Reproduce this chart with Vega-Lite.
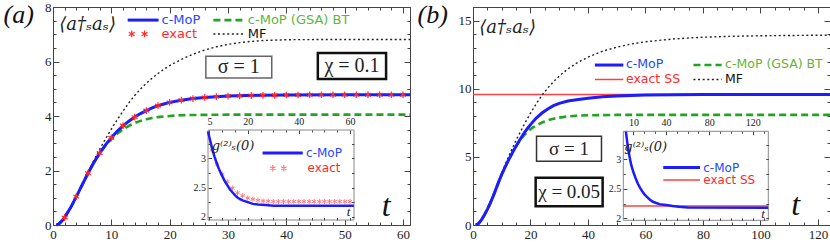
{
  "$schema": "https://vega.github.io/schema/vega-lite/v6.json",
  "autosize": {"type": "pad"},
  "padding": {"left": 2, "top": 0, "right": 0, "bottom": 0},
  "spacing": 63,
  "bounds": "flush",
  "config": {
    "view": {"stroke": "#444", "strokeWidth": 1},
    "axis": {"domain": false, "grid": false, "labelFont": "Liberation Serif", "labelFontSize": 13, "labelColor": "#222", "tickColor": "#444", "labelOverlap": false, "labelFlush": false, "format": "~g"}
  },
  "datasets": {
    "a_cmop": [{"t":0.6,"v":0},{"t":1,"v":0.04},{"t":1.5,"v":0.14},{"t":2,"v":0.28},{"t":3,"v":0.63},{"t":4,"v":1.04},{"t":5,"v":1.47},{"t":6,"v":1.9},{"t":7,"v":2.29},{"t":8,"v":2.64},{"t":9,"v":2.94},{"t":10,"v":3.2},{"t":11,"v":3.44},{"t":12,"v":3.64},{"t":13,"v":3.81},{"t":14,"v":3.96},{"t":15,"v":4.09},{"t":16,"v":4.2},{"t":17,"v":4.3},{"t":18,"v":4.38},{"t":19,"v":4.44},{"t":20,"v":4.5},{"t":22,"v":4.58},{"t":24,"v":4.64},{"t":26,"v":4.68},{"t":28,"v":4.71},{"t":30,"v":4.73},{"t":33,"v":4.75},{"t":36,"v":4.76},{"t":40,"v":4.77},{"t":50,"v":4.78},{"t":61.2,"v":4.78}],
    "a_gsa": [{"t":0.6,"v":0},{"t":1,"v":0.04},{"t":2,"v":0.28},{"t":3,"v":0.63},{"t":4,"v":1.04},{"t":5,"v":1.47},{"t":6,"v":1.9},{"t":7,"v":2.29},{"t":8,"v":2.63},{"t":9,"v":2.92},{"t":10,"v":3.15},{"t":11,"v":3.35},{"t":12,"v":3.51},{"t":13,"v":3.64},{"t":14,"v":3.74},{"t":15,"v":3.82},{"t":16,"v":3.88},{"t":17,"v":3.93},{"t":18,"v":3.96},{"t":20,"v":4.0},{"t":22,"v":4.03},{"t":25,"v":4.04},{"t":30,"v":4.05},{"t":61.2,"v":4.05}],
    "a_mf": [{"t":0.6,"v":0},{"t":1,"v":0.04},{"t":2,"v":0.28},{"t":3,"v":0.63},{"t":4,"v":1.05},{"t":5,"v":1.49},{"t":6,"v":1.94},{"t":7,"v":2.37},{"t":8,"v":2.78},{"t":9,"v":3.16},{"t":10,"v":3.52},{"t":11,"v":3.86},{"t":12,"v":4.18},{"t":13,"v":4.48},{"t":14,"v":4.75},{"t":15,"v":4.99},{"t":16,"v":5.2},{"t":17,"v":5.39},{"t":18,"v":5.56},{"t":19,"v":5.71},{"t":20,"v":5.85},{"t":22,"v":6.08},{"t":24,"v":6.27},{"t":26,"v":6.42},{"t":28,"v":6.54},{"t":30,"v":6.63},{"t":33,"v":6.72},{"t":36,"v":6.77},{"t":40,"v":6.8},{"t":50,"v":6.81},{"t":61.2,"v":6.81}],
    "a_exact": [{"t":2,"v":0.27},{"t":4,"v":1.04},{"t":6,"v":1.9},{"t":8,"v":2.64},{"t":10,"v":3.2},{"t":12,"v":3.65},{"t":14,"v":3.96},{"t":16,"v":4.2},{"t":18,"v":4.38},{"t":20,"v":4.5},{"t":22,"v":4.58},{"t":24,"v":4.64},{"t":26,"v":4.68},{"t":28,"v":4.71},{"t":30,"v":4.73},{"t":32,"v":4.74},{"t":34,"v":4.75},{"t":36,"v":4.76},{"t":38,"v":4.76},{"t":40,"v":4.77},{"t":42,"v":4.77},{"t":44,"v":4.78},{"t":46,"v":4.78},{"t":48,"v":4.78},{"t":50,"v":4.78},{"t":52,"v":4.78},{"t":54,"v":4.78},{"t":56,"v":4.78},{"t":58,"v":4.78},{"t":60,"v":4.78}],
    "a_in_cmop": [{"t":4.46,"v":3.46},{"t":5,"v":3.36},{"t":6,"v":3.18},{"t":7,"v":3.03},{"t":8,"v":2.9},{"t":9,"v":2.79},{"t":10,"v":2.7},{"t":11,"v":2.61},{"t":12,"v":2.54},{"t":13,"v":2.47},{"t":14,"v":2.42},{"t":15,"v":2.37},{"t":16,"v":2.33},{"t":17,"v":2.3},{"t":18,"v":2.28},{"t":20,"v":2.25},{"t":22,"v":2.22},{"t":24,"v":2.21},{"t":27,"v":2.2},{"t":30,"v":2.19},{"t":61.5,"v":2.19}],
    "a_in_exact": [{"t":6,"v":3.14},{"t":8,"v":2.9},{"t":10,"v":2.73},{"t":12,"v":2.6},{"t":14,"v":2.49},{"t":16,"v":2.41},{"t":18,"v":2.36},{"t":20,"v":2.32},{"t":22,"v":2.3},{"t":24,"v":2.28},{"t":26,"v":2.27},{"t":28,"v":2.265},{"t":30,"v":2.26},{"t":32,"v":2.26},{"t":34,"v":2.26},{"t":36,"v":2.26},{"t":38,"v":2.26},{"t":40,"v":2.26},{"t":42,"v":2.26},{"t":44,"v":2.26},{"t":46,"v":2.26},{"t":48,"v":2.26},{"t":50,"v":2.26},{"t":52,"v":2.26},{"t":54,"v":2.26},{"t":56,"v":2.26},{"t":58,"v":2.26},{"t":60,"v":2.26}],
    "b_cmop": [{"t":1,"v":0},{"t":2,"v":0.12},{"t":3,"v":0.4},{"t":4,"v":0.75},{"t":5,"v":1.15},{"t":6,"v":1.6},{"t":7,"v":2.1},{"t":8,"v":2.65},{"t":9,"v":3.2},{"t":10,"v":3.72},{"t":11,"v":4.18},{"t":12,"v":4.62},{"t":13,"v":5.02},{"t":14,"v":5.42},{"t":15,"v":5.8},{"t":16,"v":6.15},{"t":17,"v":6.5},{"t":18,"v":6.82},{"t":19,"v":7.1},{"t":20,"v":7.37},{"t":22,"v":7.85},{"t":24,"v":8.22},{"t":26,"v":8.52},{"t":28,"v":8.76},{"t":30,"v":8.93},{"t":33,"v":9.1},{"t":36,"v":9.2},{"t":40,"v":9.31},{"t":45,"v":9.41},{"t":50,"v":9.47},{"t":55,"v":9.51},{"t":60,"v":9.54},{"t":70,"v":9.56},{"t":80,"v":9.57},{"t":124.2,"v":9.57}],
    "b_gsa": [{"t":1,"v":0},{"t":2,"v":0.12},{"t":3,"v":0.4},{"t":4,"v":0.75},{"t":5,"v":1.15},{"t":6,"v":1.6},{"t":7,"v":2.1},{"t":8,"v":2.65},{"t":9,"v":3.2},{"t":10,"v":3.72},{"t":11,"v":4.18},{"t":12,"v":4.62},{"t":13,"v":5.02},{"t":14,"v":5.42},{"t":15,"v":5.78},{"t":16,"v":6.1},{"t":17,"v":6.4},{"t":18,"v":6.64},{"t":19,"v":6.85},{"t":20,"v":7.03},{"t":21,"v":7.18},{"t":22,"v":7.3},{"t":24,"v":7.52},{"t":26,"v":7.68},{"t":28,"v":7.8},{"t":30,"v":7.88},{"t":33,"v":7.97},{"t":36,"v":8.02},{"t":40,"v":8.05},{"t":50,"v":8.08},{"t":124.2,"v":8.08}],
    "b_mf": [{"t":1,"v":0},{"t":2,"v":0.12},{"t":3,"v":0.4},{"t":4,"v":0.76},{"t":5,"v":1.17},{"t":6,"v":1.63},{"t":7,"v":2.14},{"t":8,"v":2.7},{"t":9,"v":3.27},{"t":10,"v":3.82},{"t":11,"v":4.34},{"t":12,"v":4.84},{"t":13,"v":5.32},{"t":14,"v":5.78},{"t":15,"v":6.22},{"t":16,"v":6.64},{"t":18,"v":7.45},{"t":20,"v":8.2},{"t":22,"v":8.9},{"t":24,"v":9.52},{"t":26,"v":10.05},{"t":28,"v":10.52},{"t":30,"v":10.93},{"t":33,"v":11.45},{"t":36,"v":11.88},{"t":40,"v":12.32},{"t":45,"v":12.75},{"t":50,"v":13.05},{"t":55,"v":13.28},{"t":60,"v":13.45},{"t":70,"v":13.66},{"t":80,"v":13.78},{"t":90,"v":13.85},{"t":100,"v":13.89},{"t":115,"v":13.92},{"t":124.2,"v":13.93}],
    "b_in_cmop": [{"t":3.05,"v":3.47},{"t":4,"v":3.33},{"t":5,"v":3.2},{"t":6,"v":3.08},{"t":8,"v":2.9},{"t":10,"v":2.78},{"t":12,"v":2.68},{"t":14,"v":2.59},{"t":16,"v":2.52},{"t":18,"v":2.46},{"t":20,"v":2.41},{"t":22,"v":2.37},{"t":25,"v":2.32},{"t":28,"v":2.28},{"t":31,"v":2.26},{"t":34,"v":2.24},{"t":38,"v":2.23},{"t":42,"v":2.22},{"t":46,"v":2.21},{"t":52,"v":2.195},{"t":60,"v":2.185},{"t":134.3,"v":2.18}]
  },
  "hconcat": [
    {
      "width": 357, "height": 218,
      "resolve": {"scale": {"x": "independent", "y": "independent"}},
      "layer": [
        {
          "encoding": {
            "x": {"field": "t", "type": "quantitative", "scale": {"domain": [0, 61.2], "nice": false, "zero": false}, "axis": null},
            "y": {"field": "v", "type": "quantitative", "scale": {"domain": [0, 8], "nice": false, "zero": false}, "axis": null}
          },
          "resolve": {"axis": {"x": "independent", "y": "independent"}},
          "layer": [
            {"data": {"name": "a_gsa"}, "mark": {"type": "line", "color": "#22a322", "strokeWidth": 2.6, "strokeDash": [7, 4]},
             "encoding": {
               "x": {"field": "t", "type": "quantitative", "scale": {"domain": [0, 61.2], "nice": false, "zero": false},
                     "axis": {"orient": "top", "title": null, "labels": false, "values": [0,2,4,6,8,10,12,14,16,18,20,22,24,26,28,30,32,34,36,38,40,42,44,46,48,50,52,54,56,58,60], "tickSize": {"condition": {"test": "datum.value % 10 === 0", "value": -6}, "value": -3}}},
               "y": {"field": "v", "type": "quantitative", "scale": {"domain": [0, 8], "nice": false, "zero": false},
                     "axis": {"orient": "right", "title": null, "labels": false, "values": [0,0.5,1,1.5,2,2.5,3,3.5,4,4.5,5,5.5,6,6.5,7,7.5,8], "tickSize": {"condition": {"test": "datum.value % 2 === 0", "value": -6}, "value": -3}}}
             }},
            {"data": {"name": "a_mf"}, "mark": {"type": "line", "color": "#222", "strokeWidth": 1.4, "strokeDash": [2, 2.6]}},
            {"data": {"name": "a_cmop"}, "mark": {"type": "line", "color": "#1c1cff", "strokeWidth": 3},
             "encoding": {
               "x": {"field": "t", "type": "quantitative", "scale": {"domain": [0, 61.2], "nice": false, "zero": false},
                     "axis": {"orient": "bottom", "title": null, "format": "d", "values": [0,2,4,6,8,10,12,14,16,18,20,22,24,26,28,30,32,34,36,38,40,42,44,46,48,50,52,54,56,58,60], "labelExpr": "datum.value % 10 === 0 ? datum.label : ''", "tickSize": {"condition": {"test": "datum.value % 10 === 0", "value": -6}, "value": -3}, "labelPadding": 9}},
               "y": {"field": "v", "type": "quantitative", "scale": {"domain": [0, 8], "nice": false, "zero": false},
                     "axis": {"orient": "left", "values": [0,0.5,1,1.5,2,2.5,3,3.5,4,4.5,5,5.5,6,6.5,7,7.5,8], "labelExpr": "datum.value % 2 === 0 ? datum.label : ''", "tickSize": {"condition": {"test": "datum.value % 2 === 0", "value": -6}, "value": -3}, "labelPadding": 8,
                              "title": "(a)", "titleAngle": 0, "titleX": -50, "titleY": 15, "titleAlign": "left", "titleBaseline": "alphabetic", "titleFont": "Liberation Serif", "titleFontSize": 26, "titleFontStyle": "italic", "titleFontWeight": "normal", "titleColor": "#111"}}
             }},
            {"data": {"name": "a_exact"}, "mark": {"type": "point", "shape": "M0,-1L0,1M-0.87,-0.5L0.87,0.5M-0.87,0.5L0.87,-0.5", "filled": false, "stroke": "#ff2a2a", "strokeWidth": 1.2, "size": 45, "opacity": 1}},
            {"data": {"values": [{"t": 12.8, "t2": 18.1, "v": 7.52}]}, "mark": {"type": "rule", "color": "#1c1cff", "strokeWidth": 3}, "encoding": {"x2": {"field": "t2"}}},
            {"data": {"values": [{"t": 27.5, "t2": 32.9, "v": 7.52}]}, "mark": {"type": "rule", "color": "#22a322", "strokeWidth": 2.6, "strokeDash": [7, 4]}, "encoding": {"x2": {"field": "t2"}}},
            {"data": {"values": [{"t": 27.5, "t2": 32.9, "v": 7.01}]}, "mark": {"type": "rule", "color": "#222", "strokeWidth": 1.4, "strokeDash": [2, 2.6]}, "encoding": {"x2": {"field": "t2"}}},
            {"data": {"values": [{"t": 13.5, "v": 7.01}, {"t": 15.7, "v": 7.01}]}, "mark": {"type": "point", "shape": "M0,-1L0,1M-0.87,-0.5L0.87,0.5M-0.87,0.5L0.87,-0.5", "filled": false, "stroke": "#ff2a2a", "strokeWidth": 1.2, "size": 45, "opacity": 1}},
            {"data": {"values": [{"t": 18.6, "v": 7.52, "label": "c-MoP", "s": "c"}, {"t": 33.4, "v": 7.52, "label": "c-MoP (GSA) BT", "s": "g"}, {"t": 18.6, "v": 7.01, "label": "exact", "s": "e"}, {"t": 33.4, "v": 7.01, "label": "MF", "s": "m"}]},
             "mark": {"type": "text", "align": "left", "baseline": "middle", "font": "DejaVu Sans", "fontSize": 13},
             "encoding": {"text": {"field": "label"}, "color": {"field": "s", "type": "nominal", "scale": {"domain": ["c", "e", "g", "m", "r"], "range": ["#2448ff", "#ff2a2a", "#5fb43c", "#111111", "#ff2a2a"]}, "legend": null}}},
            {"data": {"values": [{"t": 26.2, "t2": 37.5, "v": 5.39, "v2": 6.19}]}, "mark": {"type": "rect", "fill": "white", "stroke": "#666", "strokeWidth": 1.5}, "encoding": {"x2": {"field": "t2"}, "y2": {"field": "v2"}}},
            {"data": {"values": [{"t": 45.4, "t2": 57.1, "v": 5.36, "v2": 6.31}]}, "mark": {"type": "rect", "fill": "white", "stroke": "#111", "strokeWidth": 2.5}, "encoding": {"x2": {"field": "t2"}, "y2": {"field": "v2"}}},
            {"data": {"values": [{"t": 31.85, "v": 5.79, "label": "σ = 1"}, {"t": 51.25, "v": 5.83, "label": "χ = 0.1"}]},
             "mark": {"type": "text", "align": "center", "baseline": "middle", "font": "Liberation Serif", "fontSize": 20, "color": "#222"},
             "encoding": {"text": {"field": "label"}}},
            {"data": {"values": [{"t": 1.08, "v": 7.17, "label": "⟨a†ₛaₛ⟩"}]},
             "mark": {"type": "text", "align": "left", "baseline": "alphabetic", "font": "DejaVu Serif", "fontStyle": "italic", "fontSize": 18, "color": "#222"},
             "encoding": {"text": {"field": "label"}}},
            {"data": {"values": [{"t": 57.1, "v": 0.33, "label": "t"}]},
             "mark": {"type": "text", "align": "center", "baseline": "alphabetic", "font": "Liberation Serif", "fontStyle": "italic", "fontSize": 32, "color": "#111"},
             "encoding": {"text": {"field": "label"}}}
          ]
        },
        {
          "encoding": {
            "x": {"field": "t", "type": "quantitative", "scale": {"domain": [4.46, 61.56], "range": [155, 301], "nice": false, "zero": false}, "axis": null},
            "y": {"field": "v", "type": "quantitative", "scale": {"domain": [1.944, 3.485], "range": [213, 123], "nice": false, "zero": false}, "axis": null}
          },
          "resolve": {"axis": {"x": "independent", "y": "independent"}},
          "layer": [
            {"data": {"values": [{"t": 4.46, "t2": 61.56, "v": 1.944, "v2": 3.485}]}, "mark": {"type": "rect", "fill": "white", "stroke": "#888", "strokeWidth": 1},
             "encoding": {
               "x": {"field": "t", "type": "quantitative", "scale": {"domain": [4.46, 61.56], "range": [155, 301], "nice": false, "zero": false},
                     "axis": {"orient": "bottom", "offset": -5, "zindex": 1, "title": null, "labels": false, "values": [5,10,15,20,25,30,35,40,45,50,55,60], "tickSize": -2.5}},
               "y": {"field": "v", "type": "quantitative", "scale": {"domain": [1.944, 3.485], "range": [213, 123], "nice": false, "zero": false},
                     "axis": {"orient": "right", "offset": -56, "zindex": 1, "title": null, "labels": false, "values": [2,2.25,2.5,2.75,3,3.25], "tickSize": -2.5}},
               "x2": {"field": "t2"}, "y2": {"field": "v2"}
             }},
            {"data": {"name": "a_in_exact"}, "mark": {"type": "point", "shape": "M0,-1L0,1M-0.87,-0.5L0.87,0.5M-0.87,0.5L0.87,-0.5", "filled": false, "stroke": "#ff7a7a", "strokeWidth": 1, "size": 25, "opacity": 1}},
            {"data": {"name": "a_in_cmop"}, "mark": {"type": "line", "color": "#1c1cff", "strokeWidth": 2.5},
             "encoding": {
               "x": {"field": "t", "type": "quantitative", "scale": {"domain": [4.46, 61.56], "range": [155, 301], "nice": false, "zero": false},
                     "axis": {"orient": "top", "offset": -123, "zindex": 1, "title": null, "format": "d", "values": [5,10,15,20,25,30,35,40,45,50,55,60], "labelExpr": "indexof([5,20,40,60], datum.value) >= 0 ? datum.label : ''", "tickSize": {"condition": {"test": "indexof([5,20,40,60], datum.value) >= 0", "value": -3.5}, "value": -2}, "labelPadding": 7, "labelFontSize": 10}},
               "y": {"field": "v", "type": "quantitative", "scale": {"domain": [1.944, 3.485], "range": [213, 123], "nice": false, "zero": false},
                     "axis": {"orient": "left", "offset": -155, "zindex": 1, "title": null, "values": [2,2.25,2.5,2.75,3,3.25], "labelExpr": "(datum.value * 2) % 1 === 0 ? datum.label : ''", "tickSize": {"condition": {"test": "(datum.value * 2) % 1 === 0", "value": -3.5}, "value": -2}, "labelPadding": 6, "labelFontSize": 10}}
             }},
            {"data": {"values": [{"t": 25.8, "t2": 41.5, "v": 3.09}]}, "mark": {"type": "rule", "color": "#1c1cff", "strokeWidth": 3}, "encoding": {"x2": {"field": "t2"}}},
            {"data": {"values": [{"t": 29.8, "v": 2.83}, {"t": 34.1, "v": 2.83}]}, "mark": {"type": "point", "shape": "M0,-1L0,1M-0.87,-0.5L0.87,0.5M-0.87,0.5L0.87,-0.5", "filled": false, "stroke": "#ff7a7a", "strokeWidth": 1.2, "size": 40, "opacity": 1}},
            {"data": {"values": [{"t": 42.8, "v": 3.09, "label": "c-MoP", "s": "c"}, {"t": 43.4, "v": 2.83, "label": "exact", "s": "e"}]},
             "mark": {"type": "text", "align": "left", "baseline": "middle", "font": "DejaVu Sans", "fontSize": 12},
             "encoding": {"text": {"field": "label"}, "color": {"field": "s", "type": "nominal", "scale": {"domain": ["c", "e", "g", "m", "r"], "range": ["#2448ff", "#ff2a2a", "#5fb43c", "#111111", "#ff2a2a"]}, "legend": null}}},
            {"data": {"values": [{"t": 5.9, "v": 3.14, "label": "g⁽²⁾ₛ(0)"}]},
             "mark": {"type": "text", "align": "left", "baseline": "alphabetic", "font": "DejaVu Serif", "fontStyle": "italic", "fontSize": 13, "color": "#222"},
             "encoding": {"text": {"field": "label"}}},
            {"data": {"values": [{"t": 59.4, "v": 2.012, "label": "t"}]},
             "mark": {"type": "text", "align": "center", "baseline": "alphabetic", "font": "Liberation Serif", "fontStyle": "italic", "fontSize": 13, "color": "#222"},
             "encoding": {"text": {"field": "label"}}}
          ]
        }
      ]
    },
    {
      "width": 357, "height": 218,
      "resolve": {"scale": {"x": "independent", "y": "independent"}},
      "layer": [
        {
          "encoding": {
            "x": {"field": "t", "type": "quantitative", "scale": {"domain": [0, 124.2], "nice": false, "zero": false}, "axis": null},
            "y": {"field": "v", "type": "quantitative", "scale": {"domain": [0, 16], "nice": false, "zero": false}, "axis": null}
          },
          "resolve": {"axis": {"x": "independent", "y": "independent"}},
          "layer": [
            {"data": {"values": [{"t": 0, "t2": 124.2, "v": 9.58}]}, "mark": {"type": "rule", "color": "#ff4040", "strokeWidth": 1.5},
             "encoding": {"x2": {"field": "t2"},
               "y": {"field": "v", "type": "quantitative", "scale": {"domain": [0, 16], "nice": false, "zero": false},
                     "axis": {"orient": "right", "title": null, "labels": false, "values": [0,1,2,3,4,5,6,7,8,9,10,11,12,13,14,15,16], "tickSize": {"condition": {"test": "datum.value % 5 === 0", "value": -6}, "value": -3}}}}},
            {"data": {"name": "b_gsa"}, "mark": {"type": "line", "color": "#22a322", "strokeWidth": 2.6, "strokeDash": [7, 4]},
             "encoding": {
               "x": {"field": "t", "type": "quantitative", "scale": {"domain": [0, 124.2], "nice": false, "zero": false},
                     "axis": {"orient": "top", "title": null, "labels": false, "values": [0,5,10,15,20,25,30,35,40,45,50,55,60,65,70,75,80,85,90,95,100,105,110,115,120], "tickSize": {"condition": {"test": "datum.value % 20 === 0", "value": -6}, "value": -3}}}
             }},
            {"data": {"name": "b_mf"}, "mark": {"type": "line", "color": "#222", "strokeWidth": 1.4, "strokeDash": [2, 2.6]}},
            {"data": {"name": "b_cmop"}, "mark": {"type": "line", "color": "#1c1cff", "strokeWidth": 3},
             "encoding": {
               "x": {"field": "t", "type": "quantitative", "scale": {"domain": [0, 124.2], "nice": false, "zero": false},
                     "axis": {"orient": "bottom", "title": null, "format": "d", "values": [0,5,10,15,20,25,30,35,40,45,50,55,60,65,70,75,80,85,90,95,100,105,110,115,120], "labelExpr": "datum.value % 20 === 0 ? datum.label : ''", "tickSize": {"condition": {"test": "datum.value % 20 === 0", "value": -6}, "value": -3}, "labelPadding": 9}},
               "y": {"field": "v", "type": "quantitative", "scale": {"domain": [0, 16], "nice": false, "zero": false},
                     "axis": {"orient": "left", "values": [0,1,2,3,4,5,6,7,8,9,10,11,12,13,14,15,16], "labelExpr": "datum.value % 5 === 0 ? datum.label : ''", "tickSize": {"condition": {"test": "datum.value % 5 === 0", "value": -6}, "value": -3}, "labelPadding": 8,
                              "title": "(b)", "titleAngle": 0, "titleX": -56, "titleY": 15, "titleAlign": "left", "titleBaseline": "alphabetic", "titleFont": "Liberation Serif", "titleFontSize": 26, "titleFontStyle": "italic", "titleFontWeight": "normal", "titleColor": "#111"}}
             }},
            {"data": {"values": [{"t": 42.4, "t2": 52.3, "v": 11.74}]}, "mark": {"type": "rule", "color": "#1c1cff", "strokeWidth": 3}, "encoding": {"x2": {"field": "t2"}}},
            {"data": {"values": [{"t": 76.7, "t2": 86.5, "v": 11.74}]}, "mark": {"type": "rule", "color": "#22a322", "strokeWidth": 2.6, "strokeDash": [7, 4]}, "encoding": {"x2": {"field": "t2"}}},
            {"data": {"values": [{"t": 42.4, "t2": 52.3, "v": 10.68}]}, "mark": {"type": "rule", "color": "#ff4040", "strokeWidth": 1.5}, "encoding": {"x2": {"field": "t2"}}},
            {"data": {"values": [{"t": 76.7, "t2": 86.5, "v": 10.68}]}, "mark": {"type": "rule", "color": "#222", "strokeWidth": 1.4, "strokeDash": [2, 2.6]}, "encoding": {"x2": {"field": "t2"}}},
            {"data": {"values": [{"t": 53.2, "v": 11.79, "label": "c-MoP", "s": "c"}, {"t": 87.7, "v": 11.79, "label": "c-MoP (GSA) BT", "s": "g"}, {"t": 53.2, "v": 10.68, "label": "exact SS", "s": "r"}, {"t": 87.7, "v": 10.68, "label": "MF", "s": "m"}]},
             "mark": {"type": "text", "align": "left", "baseline": "middle", "font": "DejaVu Sans", "fontSize": 12.5},
             "encoding": {"text": {"field": "label"}, "color": {"field": "s", "type": "nominal", "scale": {"domain": ["c", "e", "g", "m", "r"], "range": ["#2448ff", "#ff2a2a", "#5fb43c", "#111111", "#ff2a2a"]}, "legend": null}}},
            {"data": {"values": [{"t": 22.1, "t2": 44.7, "v": 4.68, "v2": 6.52}]}, "mark": {"type": "rect", "fill": "white", "stroke": "#333", "strokeWidth": 1.5}, "encoding": {"x2": {"field": "t2"}, "y2": {"field": "v2"}}},
            {"data": {"values": [{"t": 21.8, "t2": 45.1, "v": 1.38, "v2": 3.46}]}, "mark": {"type": "rect", "fill": "white", "stroke": "#111", "strokeWidth": 2.5}, "encoding": {"x2": {"field": "t2"}, "y2": {"field": "v2"}}},
            {"data": {"values": [{"t": 33.4, "v": 5.6, "label": "σ = 1"}, {"t": 33.45, "v": 2.42, "label": "χ = 0.05"}]},
             "mark": {"type": "text", "align": "center", "baseline": "middle", "font": "Liberation Serif", "fontSize": 19, "color": "#222"},
             "encoding": {"text": {"field": "label"}}},
            {"data": {"values": [{"t": 2.2, "v": 14.1, "label": "⟨a†ₛaₛ⟩"}]},
             "mark": {"type": "text", "align": "left", "baseline": "alphabetic", "font": "DejaVu Serif", "fontStyle": "italic", "fontSize": 18, "color": "#222"},
             "encoding": {"text": {"field": "label"}}},
            {"data": {"values": [{"t": 112.3, "v": 0.74, "label": "t"}]},
             "mark": {"type": "text", "align": "center", "baseline": "alphabetic", "font": "Liberation Serif", "fontStyle": "italic", "fontSize": 32, "color": "#111"},
             "encoding": {"text": {"field": "label"}}}
          ]
        },
        {
          "encoding": {
            "x": {"field": "t", "type": "quantitative", "scale": {"domain": [0.65, 134.4], "range": [150.3, 295.3], "nice": false, "zero": false}, "axis": null},
            "y": {"field": "v", "type": "quantitative", "scale": {"domain": [1.966, 3.475], "range": [213.3, 124.3], "nice": false, "zero": false}, "axis": null}
          },
          "resolve": {"axis": {"x": "independent", "y": "independent"}},
          "layer": [
            {"data": {"values": [{"t": 0.65, "t2": 134.4, "v": 1.966, "v2": 3.475}]}, "mark": {"type": "rect", "fill": "white", "stroke": "#888", "strokeWidth": 1},
             "encoding": {
               "x": {"field": "t", "type": "quantitative", "scale": {"domain": [0.65, 134.4], "range": [150.3, 295.3], "nice": false, "zero": false},
                     "axis": {"orient": "bottom", "offset": -4.7, "zindex": 1, "title": null, "labels": false, "values": [10,20,30,40,50,60,70,80,90,100,110,120,130], "tickSize": -2.5}},
               "y": {"field": "v", "type": "quantitative", "scale": {"domain": [1.966, 3.475], "range": [213.3, 124.3], "nice": false, "zero": false},
                     "axis": {"orient": "right", "offset": -61.7, "zindex": 1, "title": null, "labels": false, "values": [2,2.25,2.5,2.75,3,3.25], "tickSize": -2.5}},
               "x2": {"field": "t2"}, "y2": {"field": "v2"}
             }},
            {"data": {"values": [{"t": 0.65, "t2": 134.4, "v": 2.21}]}, "mark": {"type": "rule", "color": "#ff4040", "strokeWidth": 1.5}, "encoding": {"x2": {"field": "t2"}}},
            {"data": {"name": "b_in_cmop"}, "mark": {"type": "line", "color": "#1c1cff", "strokeWidth": 2.5},
             "encoding": {
               "x": {"field": "t", "type": "quantitative", "scale": {"domain": [0.65, 134.4], "range": [150.3, 295.3], "nice": false, "zero": false},
                     "axis": {"orient": "top", "offset": -124.3, "zindex": 1, "title": null, "format": "d", "values": [10,20,30,40,50,60,70,80,90,100,110,120,130], "labelExpr": "indexof([10,40,80,120], datum.value) >= 0 ? datum.label : ''", "tickSize": {"condition": {"test": "indexof([10,40,80,120], datum.value) >= 0", "value": -3.5}, "value": -2}, "labelPadding": 7, "labelFontSize": 10}},
               "y": {"field": "v", "type": "quantitative", "scale": {"domain": [1.966, 3.475], "range": [213.3, 124.3], "nice": false, "zero": false},
                     "axis": {"orient": "left", "offset": -150.3, "zindex": 1, "title": null, "values": [2,2.25,2.5,2.75,3,3.25], "labelExpr": "(datum.value * 2) % 1 === 0 ? datum.label : ''", "tickSize": {"condition": {"test": "(datum.value * 2) % 1 === 0", "value": -3.5}, "value": -2}, "labelPadding": 6, "labelFontSize": 10}}
             }},
            {"data": {"values": [{"t": 37.5, "t2": 71.4, "v": 2.86}]}, "mark": {"type": "rule", "color": "#1c1cff", "strokeWidth": 3}, "encoding": {"x2": {"field": "t2"}}},
            {"data": {"values": [{"t": 37.5, "t2": 71.4, "v": 2.65}]}, "mark": {"type": "rule", "color": "#ff4040", "strokeWidth": 1.5}, "encoding": {"x2": {"field": "t2"}}},
            {"data": {"values": [{"t": 74.4, "v": 2.86, "label": "c-MoP", "s": "c"}, {"t": 74.4, "v": 2.65, "label": "exact SS", "s": "r"}]},
             "mark": {"type": "text", "align": "left", "baseline": "middle", "font": "DejaVu Sans", "fontSize": 12},
             "encoding": {"text": {"field": "label"}, "color": {"field": "s", "type": "nominal", "scale": {"domain": ["c", "e", "g", "m", "r"], "range": ["#2448ff", "#ff2a2a", "#5fb43c", "#111111", "#ff2a2a"]}, "legend": null}}},
            {"data": {"values": [{"t": 1.6, "v": 3.14, "label": "g⁽²⁾ₛ(0)"}]},
             "mark": {"type": "text", "align": "left", "baseline": "alphabetic", "font": "DejaVu Serif", "fontStyle": "italic", "fontSize": 13, "color": "#222"},
             "encoding": {"text": {"field": "label"}}},
            {"data": {"values": [{"t": 129.5, "v": 2.005, "label": "t"}]},
             "mark": {"type": "text", "align": "center", "baseline": "alphabetic", "font": "Liberation Serif", "fontStyle": "italic", "fontSize": 13, "color": "#222"},
             "encoding": {"text": {"field": "label"}}}
          ]
        }
      ]
    }
  ]
}
